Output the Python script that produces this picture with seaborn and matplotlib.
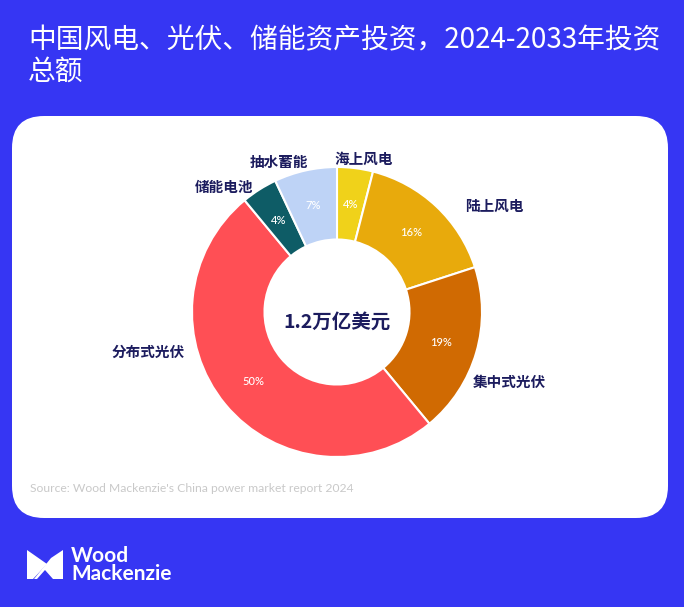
import numpy as np
import matplotlib
matplotlib.use('Agg')
import matplotlib.pyplot as plt
import seaborn as sns
from matplotlib.patches import FancyBboxPatch, Polygon

sns.set_theme(style='white')
plt.rcParams['font.family'] = ['Noto Sans CJK SC', 'DejaVu Sans']

# data
categories = ['海上风电', '陆上风电', '集中式光伏', '分布式光伏', '储能电池', '抽水蓄能']
shares = [4, 16, 19, 50, 4, 7]
colors = ['#F0D21A', '#E8AA0C', '#D06A02', '#FF4F55', '#0E5C66', '#BED3F6']
center_label = '1.2万亿美元'
title = '中国风电、光伏、储能资产投资，2024-2033年投资\n总额'
source = "Source: Wood Mackenzie's China power market report 2024"

# where the category names sit (angle clockwise from top, radius)
label_pos = [(10, 1.07), (56, 1.31), (112, 1.28), (258, 1.33), (318, 1.16), (339, 1.11)]

BG = '#3636F3'
NAVY = '#1C1C5E'

W, H = 684, 607
fig = plt.figure(figsize=(W / 100, H / 100), dpi=100)
fig.patch.set_facecolor(BG)

# background layer in pixel units
bg = fig.add_axes([0, 0, 1, 1])
bg.set_xlim(0, W)
bg.set_ylim(H, 0)
bg.axis('off')
card = FancyBboxPatch((12, 116), 656, 402, boxstyle='round,pad=0,rounding_size=32',
                      facecolor='white', edgecolor='none')
bg.add_patch(card)

bg.text(28, 25, title, color='white', fontsize=20, fontweight='medium',
        va='top', ha='left', linespacing=1.08)
bg.text(30, 488, source, color='#C9C9C9', fontsize=8.7, va='center', ha='left',
        family=['Lato', 'DejaVu Sans'])

# logo
bg.add_patch(Polygon([(27, 550), (47, 564), (33, 579), (27, 579)], closed=True,
                     facecolor='white', edgecolor='none'))
bg.add_patch(Polygon([(63, 550), (63, 579), (53, 579), (45, 570), (37, 579), (34, 579), (51, 558)],
                     closed=True, facecolor='white', edgecolor='none'))
bg.text(71, 565, 'Wood\nMackenzie', color='white', fontsize=15, fontweight='bold',
        va='center', ha='left', linespacing=0.9, family=['Lato', 'DejaVu Sans'])

# donut
cx, cy, R = 337, 312, 145
ax = fig.add_axes([(cx - R) / W, (H - cy - R) / H, 2 * R / W, 2 * R / H])
wedges, texts, autotexts = ax.pie(
    shares, colors=colors, startangle=90, counterclock=False,
    autopct='%d%%', pctdistance=0.75, radius=1,
    wedgeprops=dict(width=0.5, edgecolor='white', linewidth=1.5),
    textprops=dict(color='white', fontsize=8, fontweight='medium',
                   family=['Lato', 'DejaVu Sans']))
ax.set_xlim(-1, 1)
ax.set_ylim(-1, 1)
ax.set_aspect('equal')
ax.axis('off')

for name, (ang, r) in zip(categories, label_pos):
    a = np.deg2rad(ang)
    ax.text(r * np.sin(a), r * np.cos(a), name, color=NAVY, fontsize=10.5,
            fontweight='bold', ha='center', va='center', clip_on=False)

ax.text(0, -0.07, center_label, color=NAVY, fontsize=14, fontweight='bold',
        ha='center', va='center')

fig.savefig('out.png', dpi=100, facecolor=BG)
